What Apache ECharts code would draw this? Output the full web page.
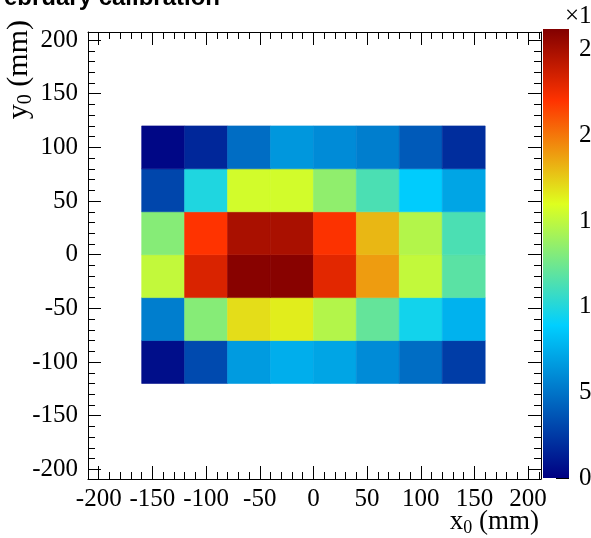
<!DOCTYPE html>
<html><head><meta charset="utf-8">
<script src="https://cdn.jsdelivr.net/npm/echarts@6/dist/echarts.min.js"></script>
<style>html,body{margin:0;padding:0;background:#fff}#c{width:591px;height:538px}</style>
</head><body><div id="c"></div>
<script>
// ---- data ----
const chartTitle = 'February calibration';
const xEdges = [-160, -120, -80, -40, 0, 40, 80, 120, 160];
const yEdges = [-120, -80, -40, 0, 40, 80, 120];
// values per row (bottom row first), units of 10^3
const rowYm120 = [0.6, 3.2, 6.7, 7.5, 7.1, 6.0, 4.7, 2.6];
const rowYm80  = [5.4, 13.2, 17.0, 16.5, 14.6, 12.1, 9.5, 7.7];
const rowYm40  = [15.1, 23.3, 26.0, 26.0, 23.0, 18.9, 15.1, 11.8];
const rowY0    = [13.2, 22.0, 24.9, 24.9, 22.1, 18.1, 14.6, 11.3];
const rowY40   = [3.0, 9.9, 15.6, 15.6, 13.5, 11.3, 8.8, 7.1];
const rowY80   = [0.3, 1.7, 4.7, 6.5, 6.0, 5.4, 3.9, 1.9];
const rows = [rowYm120, rowYm80, rowYm40, rowY0, rowY40, rowY80];
const xMajorTicks = [-200, -150, -100, -50, 0, 50, 100, 150, 200];
const yMajorTicks = [-200, -150, -100, -50, 0, 50, 100, 150, 200];
const zTicks = [0, 5, 10, 15, 20, 25];
const zMin = 0, zMax = 26.2;
const zExponent = '\u00d710\u00b3';

// ---- palette (ROOT 5-stop rainbow) ----
const pStops = [0.00, 0.34, 0.61, 0.84, 1.00];
const pR = [0.00, 0.00, 0.87, 1.00, 0.51];
const pG = [0.00, 0.81, 1.00, 0.20, 0.00];
const pB = [0.51, 1.00, 0.12, 0.00, 0.00];
function pal(t) {
  let i = 0;
  while (i < pStops.length - 2 && t > pStops[i + 1]) i++;
  const f = (t - pStops[i]) / (pStops[i + 1] - pStops[i]);
  const c = a => Math.round(255 * (a[i] + f * (a[i + 1] - a[i])));
  return 'rgb(' + c(pR) + ',' + c(pG) + ',' + c(pB) + ')';
}
const palColors = [];
for (let k = 0; k <= 100; k++) palColors.push(pal(k / 100));
const gradStops = pStops.map((s, i) => ({ offset: s, color: pal(s) }));

const cells = [];
rows.forEach((row, j) => row.forEach((v, i) => {
  cells.push([xEdges[i], xEdges[i + 1], yEdges[j], yEdges[j + 1], v]);
}));

function minorTicks(lo, hi, step) { const a = []; for (let v = lo; v <= hi; v += step) a.push(v); return a; }
const xMinor = minorTicks(-200, 210, 10);
const yMinor = minorTicks(-200, 200, 10);

const FONT = 'Liberation Serif';
const black = '#000';
const lab = { fontFamily: FONT, fontSize: 25, color: black };

function axisX(pos, ticks, len, showLine, labels) {
  return {
    gridIndex: 0, type: 'value', min: -210, max: 212, position: pos,
    axisLine: { show: showLine, onZero: false, lineStyle: { color: black, width: 1 } },
    axisTick: { show: true, inside: true, length: len, customValues: ticks, lineStyle: { color: black, width: 1 } },
    axisLabel: labels ? Object.assign({ show: true, customValues: ticks, margin: 8 }, lab) : { show: false },
    splitLine: { show: false }
  };
}
function axisY(pos, ticks, len, showLine, labels) {
  return {
    gridIndex: 0, type: 'value', min: -209, max: 207.5, position: pos,
    axisLine: { show: showLine, onZero: false, lineStyle: { color: black, width: 1 } },
    axisTick: { show: true, inside: true, length: len, customValues: ticks, lineStyle: { color: black, width: 1 } },
    axisLabel: labels ? Object.assign({ show: true, customValues: ticks, margin: 10 }, lab) : { show: false },
    splitLine: { show: false }
  };
}

const richX = {
  a: { fontFamily: FONT, fontSize: 27, fill: black, color: black },
  s: { fontFamily: FONT, fontSize: 18, fill: black, color: black, padding: [12, 0, 0, 0] }
};
const richY = {
  a: { fontFamily: FONT, fontSize: 30, fill: black, color: black },
  s: { fontFamily: FONT, fontSize: 20, fill: black, color: black, padding: [13, 0, 0, 0] }
};

const chart = echarts.init(document.getElementById('c'), null, { renderer: 'canvas' });
chart.setOption({
  animation: false,
  backgroundColor: '#fff',
  grid: [
    { left: 88, top: 32, width: 453, height: 447, outerBoundsMode: 'none', containLabel: false },
    { left: 543, top: 29, width: 26, height: 449, outerBoundsMode: 'none', containLabel: false }
  ],
  xAxis: [
    axisX('bottom', xMajorTicks, 13, true, true),
    axisX('bottom', xMinor, 7, false, false),
    axisX('top', xMajorTicks, 13, true, false),
    axisX('top', xMinor, 7, false, false),
    { gridIndex: 1, type: 'value', min: 0, max: 1, show: false }
  ],
  yAxis: [
    axisY('left', yMajorTicks, 13, true, true),
    axisY('left', yMinor, 7, false, false),
    axisY('right', yMajorTicks, 13, true, false),
    axisY('right', yMinor, 7, false, false),
    {
      gridIndex: 1, type: 'value', min: zMin, max: zMax, position: 'right',
      axisLine: { show: false, onZero: false },
      axisTick: { show: true, inside: true, length: 13, customValues: zTicks, lineStyle: { color: black, width: 1 } },
      axisLabel: Object.assign({ show: true, customValues: zTicks, margin: 10, align: 'left' }, lab),
      splitLine: { show: false }
    }
  ],
  visualMap: {
    show: false, type: 'continuous', min: zMin, max: zMax, dimension: 4, seriesIndex: 0,
    inRange: { color: palColors }
  },
  series: [
    {
      type: 'custom', xAxisIndex: 0, yAxisIndex: 0, data: cells,
      encode: { x: [0, 1], y: [2, 3] },
      renderItem: function (params, api) {
        const p0 = api.coord([api.value(0), api.value(2)]);
        const p1 = api.coord([api.value(1), api.value(3)]);
        const col = api.visual('color');
        return {
          type: 'rect',
          shape: { x: p0[0], y: p1[1], width: p1[0] - p0[0], height: p0[1] - p1[1] },
          style: { fill: col, stroke: col, lineWidth: 0.6 }
        };
      }
    },
    {
      type: 'custom', xAxisIndex: 4, yAxisIndex: 4, data: [[0, 1, zMin, zMax]],
      renderItem: function (params, api) {
        const p0 = api.coord([api.value(0), api.value(2)]);
        const p1 = api.coord([api.value(1), api.value(3)]);
        return {
          type: 'rect', z2: -1,
          shape: { x: p0[0], y: p1[1], width: p1[0] - p0[0], height: p0[1] - p1[1] },
          style: { fill: new echarts.graphic.LinearGradient(0, 1, 0, 0, gradStops) }
        };
      }
    }
  ],
  graphic: [
    { type: 'text', x: 220, y: 10, style: { text: chartTitle, align: 'right', verticalAlign: 'bottom', font: 'bold 24px "Liberation Sans"', fill: black } },
    { type: 'text', x: 565, y: 16, style: { text: zExponent, align: 'left', verticalAlign: 'middle', font: '25px "Liberation Serif"', fill: black } },
    { type: 'text', x: 539, y: 537, style: { text: '{a|x}{s|0}{a| (mm)}', align: 'right', verticalAlign: 'bottom', rich: richX } },
    { type: 'text', x: 19, y: 20, rotation: Math.PI / 2, style: { text: '{a|y}{s|0}{a| (mm)}', align: 'right', verticalAlign: 'middle', rich: richY } }
  ]
});
</script></body></html>
